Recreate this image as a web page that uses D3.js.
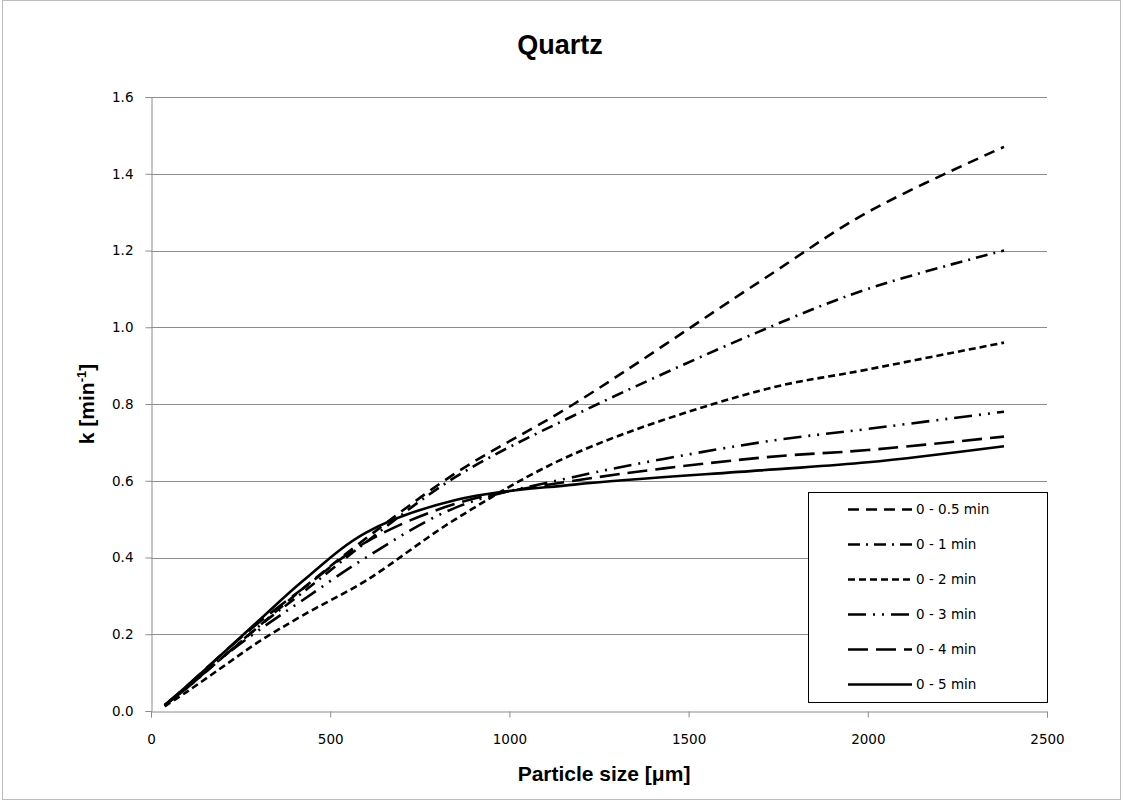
<!DOCTYPE html>
<html>
<head>
<meta charset="utf-8">
<script src="https://cdn.jsdelivr.net/npm/d3@7"></script>
<style>
  body { margin: 0; background: #fff; }
  svg { display: block; }
</style>
</head>
<body>
<div id="chart"></div>
<script>
// ---------------------------------------
// Data
// ---------------------------------------
const sizes = [38, 100, 200, 300, 425, 600, 850, 1180, 1700, 2000, 2380]; // particle size [um]
const seriesNames = ["0 - 0.5 min", "0 - 1 min", "0 - 2 min", "0 - 3 min", "0 - 4 min", "0 - 5 min"];
const k05 = [0.015, 0.06, 0.14, 0.22, 0.32, 0.45, 0.62, 0.80, 1.12, 1.30, 1.47];
const k1  = [0.015, 0.06, 0.14, 0.22, 0.31, 0.44, 0.61, 0.77, 0.99, 1.10, 1.20];
const k2  = [0.012, 0.05, 0.115, 0.18, 0.25, 0.34, 0.50, 0.67, 0.835, 0.89, 0.96];
const k3  = [0.015, 0.06, 0.14, 0.21, 0.29, 0.40, 0.53, 0.61, 0.70, 0.735, 0.78];
const k4  = [0.015, 0.065, 0.15, 0.23, 0.32, 0.44, 0.54, 0.60, 0.66, 0.68, 0.715];
const k5  = [0.015, 0.065, 0.15, 0.235, 0.34, 0.465, 0.55, 0.59, 0.627, 0.648, 0.69];
const xTicks = [0, 500, 1000, 1500, 2000, 2500];
const yTicks = [0, 0.2, 0.4, 0.6, 0.8, 1.0, 1.2, 1.4, 1.6];

// line styles per series
const dashes = ["11,7", "12,6,2,6", "7,4", "18,7,2,7,2,7", "20,8", null];

const series = seriesNames.map((name, i) => ({
  name: name,
  dash: dashes[i],
  values: [k05, k1, k2, k3, k4, k5][i].map((k, j) => ({ x: sizes[j], k: k }))
}));

// ---------------------------------------
// SVG and scales
// ---------------------------------------
const width = 1123;
const height = 800;
const plot = { left: 151, right: 1047, top: 97, bottom: 711 };
const font = "'DejaVu Sans', sans-serif";
const boldFont = "'Liberation Sans', Arial, sans-serif";

const svg = d3.select("#chart")
  .append("svg")
  .attr("width", width)
  .attr("height", height);

// outer chart border
svg.append("rect")
  .attr("x", 2.5).attr("y", 0.5)
  .attr("width", width - 5).attr("height", height - 1)
  .attr("fill", "#fff")
  .attr("stroke", "#bdbdbd");

const x = d3.scaleLinear().domain([0, 2500]).range([plot.left, plot.right]);
const y = d3.scaleLinear().domain([0, 1.6]).range([plot.bottom, plot.top]);

// gridlines
svg.append("g")
  .selectAll("line")
  .data(yTicks.filter(t => t > 0))
  .enter()
  .append("line")
  .attr("x1", plot.left).attr("x2", plot.right)
  .attr("y1", d => Math.round(y(d)) + 0.5).attr("y2", d => Math.round(y(d)) + 0.5)
  .attr("stroke", "#8c8c8c")
  .attr("stroke-width", 1);

// axes
const xAxis = svg.append("g")
  .attr("transform", `translate(0,${plot.bottom + 0.5})`)
  .call(d3.axisBottom(x).tickValues(xTicks).tickSize(6).tickPadding(17).tickFormat(d3.format("d")));
const yAxis = svg.append("g")
  .attr("transform", `translate(${plot.left + 0.5},0)`)
  .call(d3.axisLeft(y).tickValues(yTicks).tickSize(6).tickPadding(12).tickFormat(d3.format(".1f")));

[xAxis, yAxis].forEach(g => {
  g.select(".domain").attr("stroke", "#8c8c8c");
  g.selectAll(".tick line").attr("stroke", "#8c8c8c");
  g.selectAll(".tick text")
    .attr("fill", "#000")
    .style("font-family", font)
    .style("font-size", "13.5px");
});

// ---------------------------------------
// Lines
// ---------------------------------------
const line = d3.line()
  .x(d => x(d.x))
  .y(d => y(d.k))
  .curve(d3.curveCatmullRom.alpha(0.5));

svg.append("g")
  .selectAll("path")
  .data(series)
  .enter()
  .append("path")
  .attr("d", d => line(d.values))
  .attr("fill", "none")
  .attr("stroke", "#000")
  .attr("stroke-width", 2.6)
  .attr("stroke-dasharray", d => d.dash);

// ---------------------------------------
// Titles
// ---------------------------------------
svg.append("text")
  .attr("x", 560).attr("y", 54)
  .attr("text-anchor", "middle")
  .style("font-family", boldFont)
  .style("font-weight", "bold")
  .style("font-size", "27px")
  .text("Quartz");

svg.append("text")
  .attr("x", 604).attr("y", 781)
  .attr("text-anchor", "middle")
  .style("font-family", boldFont)
  .style("font-weight", "bold")
  .style("font-size", "21px")
  .text("Particle size [μm]");

const yTitle = svg.append("text")
  .attr("transform", `translate(94,${(plot.top + plot.bottom) / 2}) rotate(-90)`)
  .attr("text-anchor", "middle")
  .style("font-family", boldFont)
  .style("font-weight", "bold")
  .style("font-size", "21px");
yTitle.append("tspan").text("k [min");
yTitle.append("tspan").attr("dy", -8).style("font-size", "13px").text("-1");
yTitle.append("tspan").attr("dy", 8).text("]");

// ---------------------------------------
// Legend
// ---------------------------------------
const legend = { left: 808, top: 492, right: 1047, bottom: 702 };
svg.append("rect")
  .attr("x", legend.left + 0.5).attr("y", legend.top + 0.5)
  .attr("width", legend.right - legend.left).attr("height", legend.bottom - legend.top)
  .attr("fill", "#fff")
  .attr("stroke", "#000")
  .attr("stroke-width", 1);

const rowGap = (legend.bottom - legend.top) / series.length;
const item = svg.append("g")
  .selectAll("g")
  .data(series)
  .enter()
  .append("g")
  .attr("transform", (d, i) => `translate(0,${legend.top + rowGap * (i + 0.5)})`);

item.append("line")
  .attr("x1", 848).attr("x2", 912)
  .attr("stroke", "#000")
  .attr("stroke-width", 2.6)
  .attr("stroke-dasharray", d => d.dash);

item.append("text")
  .attr("x", 916).attr("dy", "0.35em")
  .style("font-family", font)
  .style("font-size", "13.5px")
  .text(d => d.name);
</script>
</body>
</html>
